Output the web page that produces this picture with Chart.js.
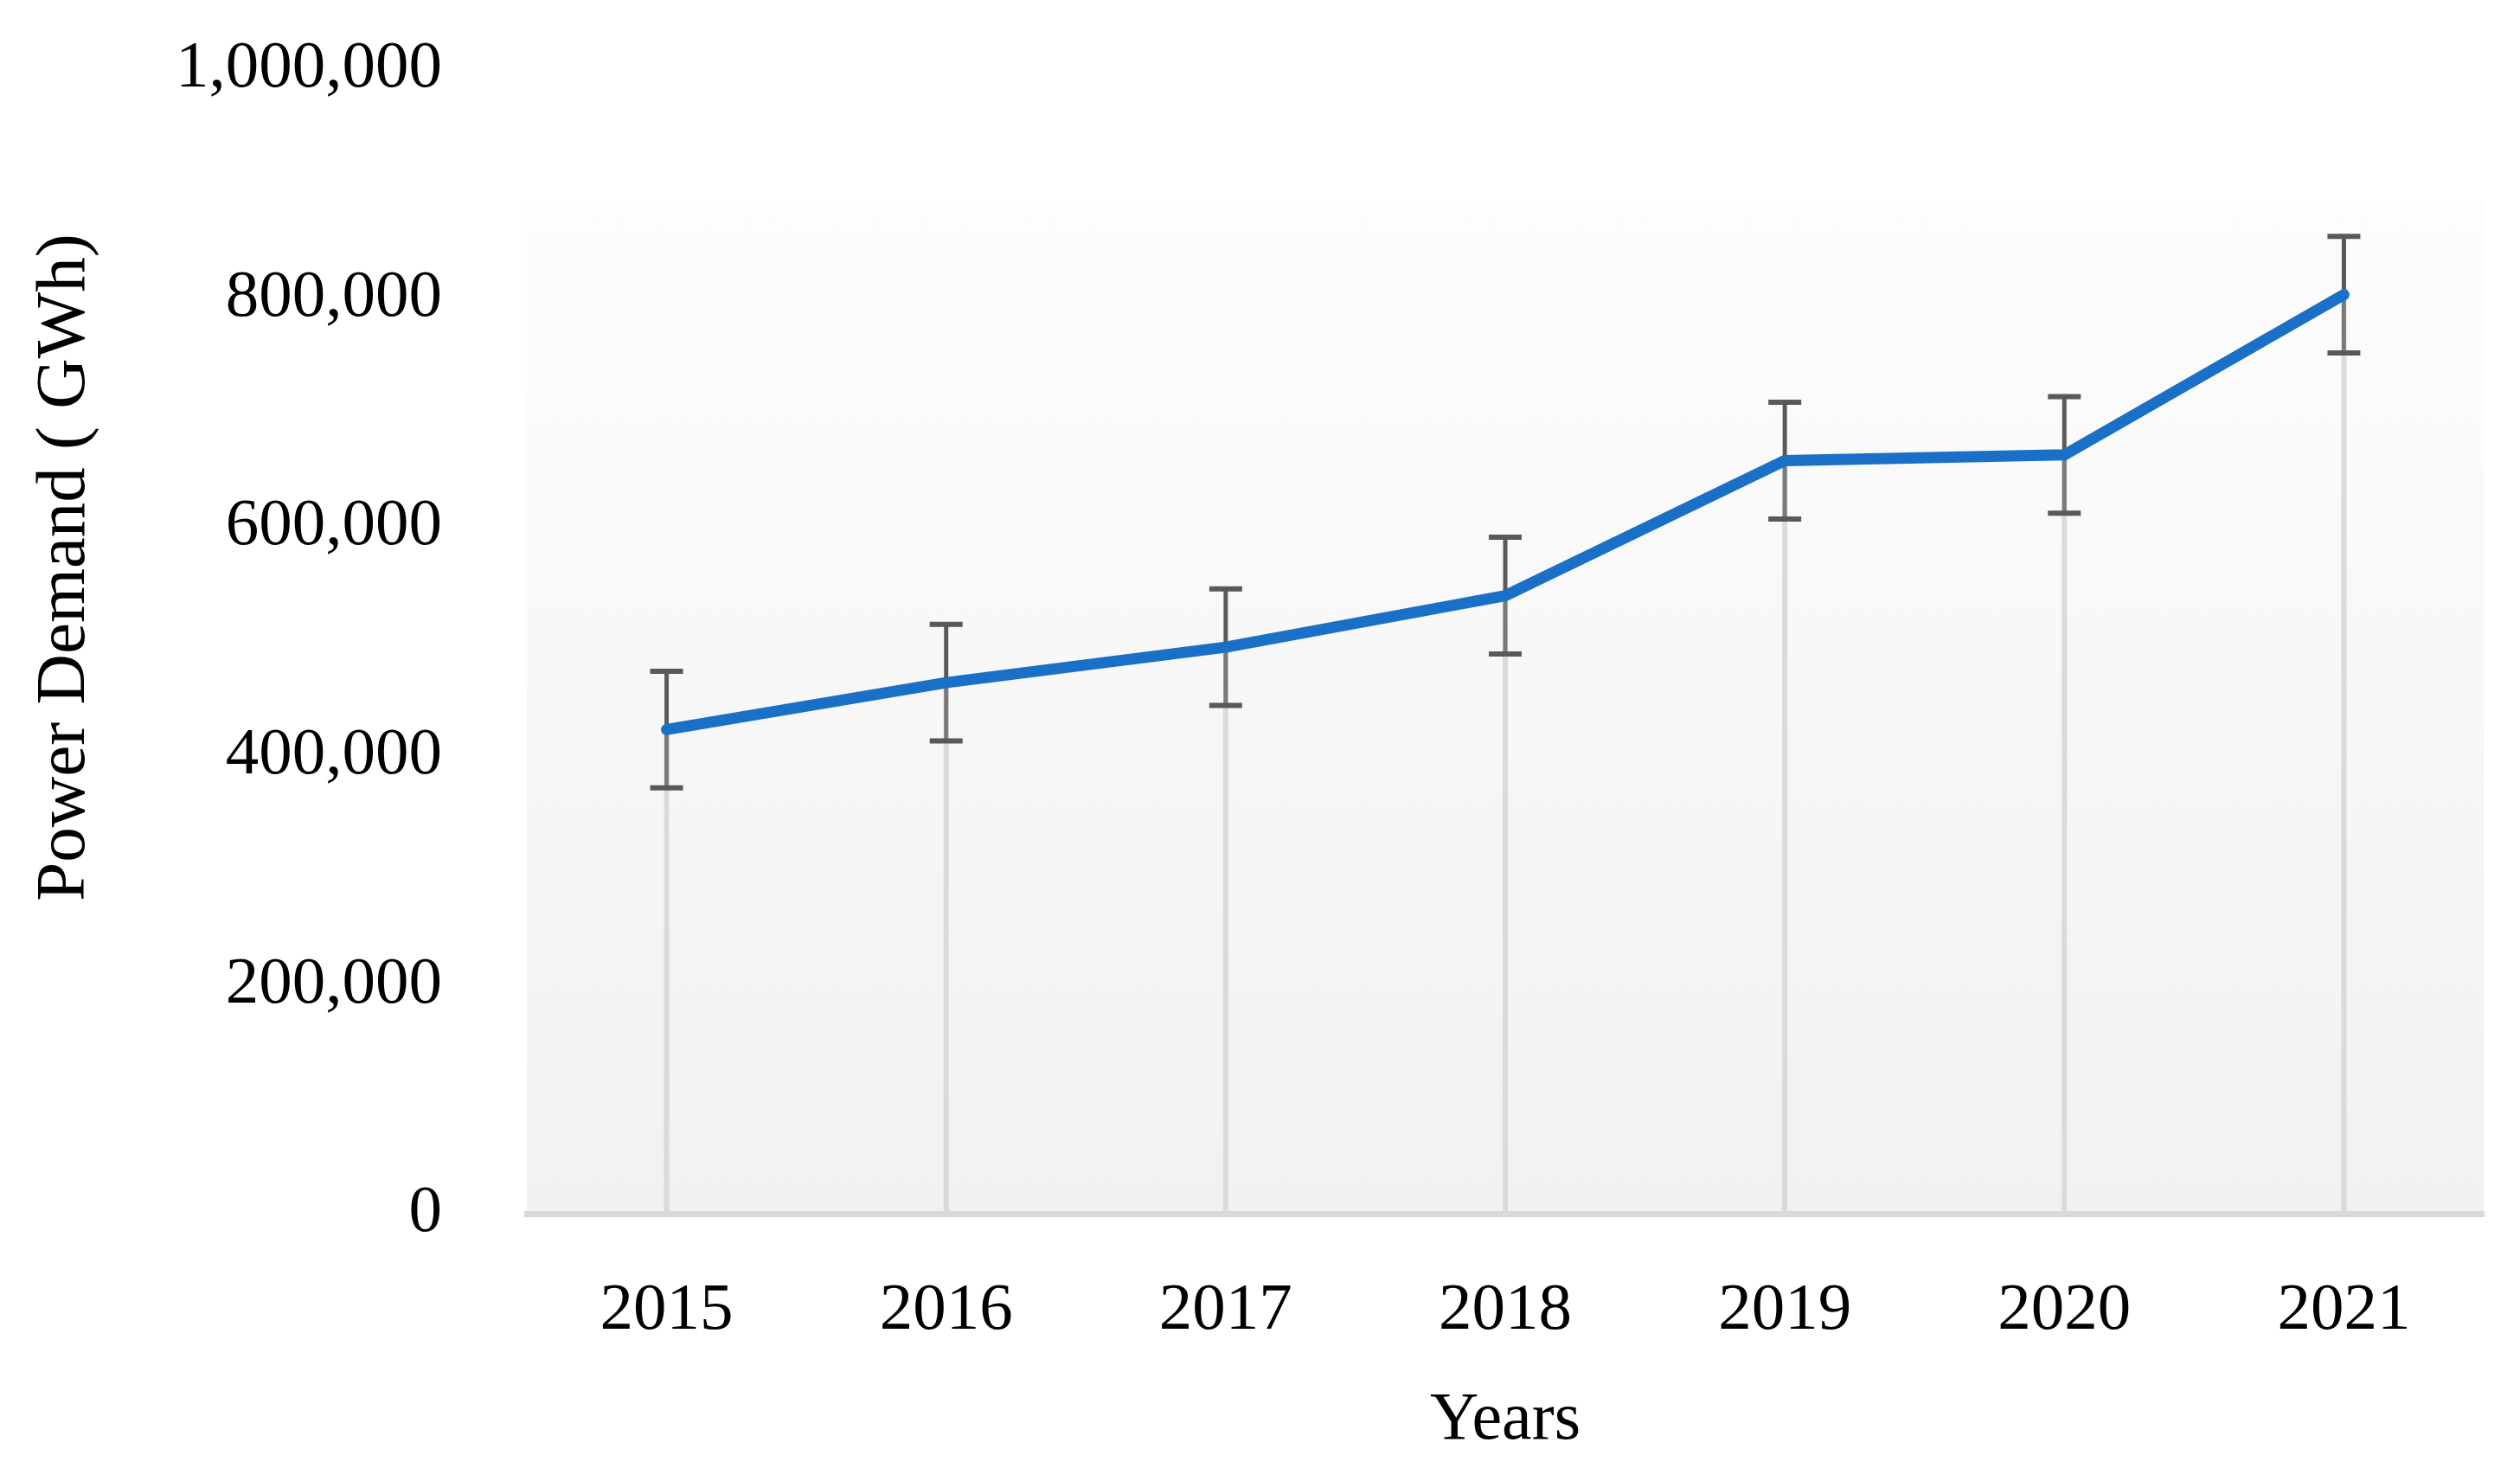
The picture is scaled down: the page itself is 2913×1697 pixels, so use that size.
<!DOCTYPE html>
<html>
<head>
<meta charset="utf-8">
<script src="https://cdn.jsdelivr.net/npm/chart.js@4.4.1/dist/chart.umd.min.js"></script>
<style>
  html, body { margin: 0; padding: 0; background: #ffffff; }
  #wrap { width: 2913px; height: 1697px; }
</style>
</head>
<body>
<div id="wrap"><canvas id="c" width="2913" height="1697"></canvas></div>
<script>
// ---- data ----
const years = ['2015', '2016', '2017', '2018', '2019', '2020', '2021'];
const demand = [423000, 464000, 495000, 540000, 658000, 663000, 803000];
const errors = [51000, 51000, 51000, 51000, 51000, 51000, 51000];
const yTicks = [0, 200000, 400000, 600000, 800000, 1000000];
const xTitle = 'Years';
const yTitle = 'Power Demand ( GWh)';

const SERIF = '"Liberation Serif", "Times New Roman", serif';

const plotBg = {
  id: 'plotBg',
  beforeDraw(chart) {
    const { ctx, chartArea: a } = chart;
    const top = a.top + (a.bottom - a.top) * 0.115;
    const g = ctx.createLinearGradient(0, top, 0, a.bottom);
    g.addColorStop(0, '#fdfdfd');
    g.addColorStop(1, '#f1f1f1');
    ctx.save();
    ctx.fillStyle = g;
    ctx.fillRect(a.left, top, a.right - a.left, a.bottom - top);
    ctx.restore();
  }
};

const dropAndErrors = {
  id: 'dropAndErrors',
  beforeDatasetsDraw(chart) {
    const { ctx } = chart;
    const ys = chart.scales.y;
    const meta = chart.getDatasetMeta(0);
    const base = ys.getPixelForValue(0);
    const seg = (x1, y1, x2, y2) => { ctx.beginPath(); ctx.moveTo(x1, y1); ctx.lineTo(x2, y2); ctx.stroke(); };
    ctx.save();
    ctx.lineCap = 'butt';
    meta.data.forEach((pt, i) => {
      const x = pt.x, yv = pt.y;
      const hi = ys.getPixelForValue(demand[i] + errors[i]);
      const lo = ys.getPixelForValue(demand[i] - errors[i]);
      ctx.strokeStyle = '#dadada';
      ctx.lineWidth = 6;
      seg(x, base, x, yv);
      ctx.lineWidth = 5;
      ctx.strokeStyle = '#595959';
      seg(x, hi, x, yv);
      ctx.strokeStyle = '#7a7a7a';
      seg(x, yv, x, lo);
      ctx.strokeStyle = '#595959';
      ctx.lineWidth = 6;
      seg(x - 19, hi, x + 19, hi);
      seg(x - 19, lo, x + 19, lo);
    });
    ctx.restore();
  }
};

const yTitlePlugin = {
  id: 'yTitlePlugin',
  afterDraw(chart) {
    const { ctx } = chart;
    ctx.save();
    ctx.translate(76, 656);
    ctx.rotate(-Math.PI / 2);
    ctx.font = '81px ' + SERIF;
    ctx.fillStyle = '#000000';
    ctx.textAlign = 'center';
    ctx.textBaseline = 'middle';
    ctx.fillText(yTitle, 0, 0);
    ctx.restore();
  }
};

new Chart(document.getElementById('c'), {
  type: 'line',
  data: {
    labels: years,
    datasets: [{
      label: 'Power Demand',
      data: demand,
      borderColor: '#1a70c7',
      backgroundColor: '#1a70c7',
      borderWidth: 13,
      borderCapStyle: 'round',
      borderJoinStyle: 'round',
      pointRadius: 0,
      tension: 0,
      fill: false
    }]
  },
  options: {
    responsive: false,
    devicePixelRatio: 1,
    animation: false,
    layout: { padding: { top: 80, right: 42, bottom: 0, left: 0 } },
    plugins: {
      legend: { display: false },
      tooltip: { enabled: false }
    },
    scales: {
      x: {
        type: 'category',
        offset: true,
        grid: { display: true, drawOnChartArea: false, drawTicks: true, tickLength: 67, color: 'rgba(0,0,0,0)' },
        border: { display: true, color: '#d9d9d9', width: 7 },
        ticks: { color: '#000000', font: { family: SERIF, size: 77 }, padding: 0, maxRotation: 0 },
        title: { display: true, text: xTitle, color: '#000000', font: { family: SERIF, size: 78 }, padding: { top: 0, bottom: 8 } },
        afterFit(scale) { scale.height = 294; }
      },
      y: {
        min: 0,
        max: 1000000,
        afterBuildTicks(scale) { scale.ticks = yTicks.map(v => ({ value: v })); },
        grid: { display: true, drawOnChartArea: false, drawTicks: true, tickLength: 98, color: 'rgba(0,0,0,0)' },
        border: { display: false },
        ticks: {
          color: '#000000',
          font: { family: SERIF, size: 77 },
          padding: 0,
          callback: (v) => Number(v).toLocaleString('en-US')
        },
        afterFit(scale) { scale.width = 609; }
      }
    }
  },
  plugins: [plotBg, dropAndErrors, yTitlePlugin]
});
</script>
</body>
</html>
